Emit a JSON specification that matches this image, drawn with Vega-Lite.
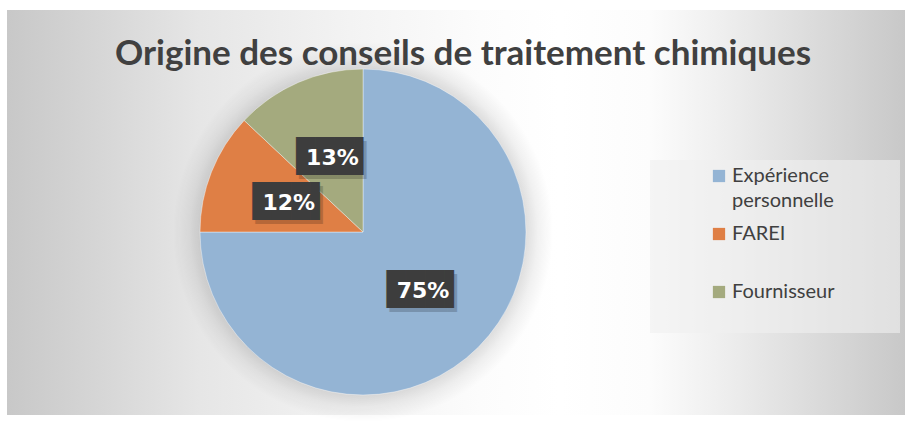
{
  "$schema": "https://vega.github.io/schema/vega-lite/v6.json",
  "autosize": {"type": "pad"},
  "padding": {"left": 7, "top": 10, "right": 2, "bottom": 6},
  "background": "#ffffff",
  "spacing": 0,
  "bounds": "flush",
  "title": {
    "text": "Origine des conseils de traitement chimiques",
    "font": "Lato",
    "fontSize": 35,
    "fontWeight": "bold",
    "color": "#404040",
    "anchor": "start",
    "frame": "group",
    "baseline": "alphabetic",
    "offset": -90,
    "dx": 108
  },
  "data": {
    "values": [
      {"source": "Expérience personnelle", "value": 0.75},
      {"source": "FAREI", "value": 0.12},
      {"source": "Fournisseur", "value": 0.13}
    ]
  },
  "vconcat": [
    {
      "width": 898,
      "height": 39,
      "mark": {
        "type": "rect",
        "fill": {
          "gradient": "linear", "x1": 0, "y1": 0, "x2": 1, "y2": 0,
          "stops": [
            {"offset": 0, "color": "#c8c8c8"},
            {"offset": 0.1036, "color": "#d6d6d6"},
            {"offset": 0.2149, "color": "#e6e6e6"},
            {"offset": 0.382, "color": "#f3f3f3"},
            {"offset": 0.5267, "color": "#fcfcfc"},
            {"offset": 0.6158, "color": "#ffffff"},
            {"offset": 0.716, "color": "#fcfcfc"},
            {"offset": 0.794, "color": "#efefef"},
            {"offset": 0.894, "color": "#dcdcdc"},
            {"offset": 1, "color": "#c8c8c8"}
          ]
        }
      },
      "encoding": {}
    },
    {
      "spacing": 0,
      "bounds": "flush",
      "hconcat": [
        {
          "width": 712,
          "height": 366,
          "layer": [
            {
              "mark": {
                "type": "rect",
                "fill": {
                  "gradient": "linear", "x1": 0, "y1": 0, "x2": 1, "y2": 0,
                  "stops": [
                    {"offset": 0, "color": "#c8c8c8"},
                    {"offset": 0.1306, "color": "#d6d6d6"},
                    {"offset": 0.271, "color": "#e6e6e6"},
                    {"offset": 0.4817, "color": "#f3f3f3"},
                    {"offset": 0.6643, "color": "#fcfcfc"},
                    {"offset": 0.7767, "color": "#ffffff"},
                    {"offset": 0.903, "color": "#fcfcfc"},
                    {"offset": 1, "color": "#efefef"}
                  ]
                }
              },
              "encoding": {}
            },
            {
              "transform": [{"aggregate": [{"op": "sum", "field": "value", "as": "total"}]}],
              "mark": {
                "type": "arc",
                "outerRadius": 190,
                "fill": {
                  "gradient": "radial", "x1": 0.5, "y1": 0.5, "r1": 0, "x2": 0.5, "y2": 0.5, "r2": 0.5,
                  "stops": [
                    {"offset": 0, "color": "rgba(0,0,0,0.12)"},
                    {"offset": 0.858, "color": "rgba(0,0,0,0.12)"},
                    {"offset": 0.92, "color": "rgba(0,0,0,0.05)"},
                    {"offset": 1, "color": "rgba(0,0,0,0)"}
                  ]
                }
              },
              "encoding": {
                "theta": {"field": "total", "type": "quantitative", "scale": {"domain": [0, 1]}}
              }
            },
            {
              "mark": {"type": "arc", "outerRadius": 163, "stroke": "#ffffff", "strokeWidth": 0.4},
              "encoding": {
                "theta": {"field": "value", "type": "quantitative", "stack": true},
                "order": {"field": "source", "sort": "ascending"},
                "color": {
                  "field": "source",
                  "type": "nominal",
                  "scale": {
                    "domain": ["Expérience personnelle", "FAREI", "Fournisseur"],
                    "range": ["#94b4d4", "#df7f45", "#a4aa7e"]
                  },
                  "legend": {
                    "title": " ",
                    "titleOrient": "right",
                    "titlePadding": 60,
                    "orient": "none",
                    "legendX": 643,
                    "legendY": 150,
                    "fillColor": "rgba(240,240,240,0.6)",
                    "padding": 6,
                    "symbolOffset": 53,
                    "symbolType": "square",
                    "symbolSize": 150,
                    "symbolStrokeWidth": 0,
                    "labelFont": "Lato",
                    "labelFontSize": 20,
                    "labelColor": "#404040",
                    "labelOffset": 3,
                    "labelBaseline": "middle",
                    "labelLimit": 400,
                    "rowPadding": 13,
                    "labelExpr": "datum.label == 'Expérience personnelle' ? ['Expérience', 'personnelle'] : [datum.label, '']"
                  }
                }
              }
            },
            {
              "mark": {"type": "text", "radius": 82, "text": "███▌", "font": "DejaVu Sans Mono", "fontSize": 32, "color": "#000000", "opacity": 0.18, "dx": 7, "dy": 4, "baseline": "middle", "align": "center"},
              "encoding": {
                "theta": {"field": "value", "type": "quantitative", "stack": true},
                "order": {"field": "source", "sort": "ascending"}
              }
            },
            {
              "mark": {"type": "text", "radius": 82, "text": "███▌", "font": "DejaVu Sans Mono", "fontSize": 32, "color": "#3d3d3d", "dx": 4, "baseline": "middle", "align": "center"},
              "encoding": {
                "theta": {"field": "value", "type": "quantitative", "stack": true},
                "order": {"field": "source", "sort": "ascending"}
              }
            },
            {
              "mark": {"type": "text", "radius": 82, "font": "DejaVu Sans", "fontSize": 22, "fontWeight": "bold", "color": "#ffffff", "baseline": "middle", "align": "center", "dx": 2, "dy": 1},
              "encoding": {
                "theta": {"field": "value", "type": "quantitative", "stack": true},
                "order": {"field": "source", "sort": "ascending"},
                "text": {"field": "value", "type": "quantitative", "format": ".0%"}
              }
            }
          ]
        },
        {
          "width": 186,
          "height": 366,
          "mark": {
            "type": "rect",
            "fill": {
              "gradient": "linear", "x1": 0, "y1": 0, "x2": 1, "y2": 0,
              "stops": [
                {"offset": 0, "color": "#efefef"},
                {"offset": 0.489, "color": "#dcdcdc"},
                {"offset": 1, "color": "#c8c8c8"}
              ]
            }
          },
          "encoding": {}
        }
      ]
    }
  ],
  "config": {
    "view": {"stroke": null},
    "concat": {"spacing": 0},
    "style": {"guide-label": {"lineHeight": 25}}
  }
}
